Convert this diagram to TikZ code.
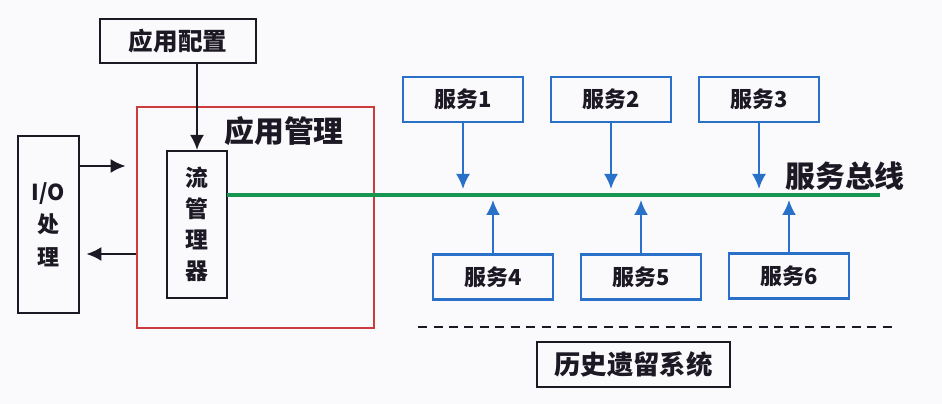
\documentclass[tikz,border=0pt]{standalone}
\usepackage{fontspec}
\newfontfamily\cjk{Noto Sans CJK SC}
\usetikzlibrary{arrows.meta}
\definecolor{busgreen}{RGB}{22,150,80}
\definecolor{srvblue}{RGB}{40,112,200}
\definecolor{mgrred}{RGB}{205,60,60}
\definecolor{bgwhite}{RGB}{250,250,252}
\definecolor{ink}{RGB}{28,24,36}
\begin{document}
\begin{tikzpicture}[x=0.02cm, y=-0.02cm,
    blackbox/.style={draw=ink, line width=1.2pt, text=ink, inner sep=0pt, font=\cjk\bfseries},
    srvbox/.style={draw=srvblue, line width=1.2pt, text=ink, inner sep=0pt,
        minimum width=2.4cm, minimum height=0.9cm, font=\cjk\bfseries\fontsize{12.5}{14}\selectfont},
    blackarrow/.style={draw=ink, line width=1.2pt, -{Latex[length=3mm,width=2.8mm]}},
    bluearrow/.style={draw=srvblue, line width=1.2pt, -{Latex[length=3mm,width=2.8mm]}}]

    \fill[bgwhite] (0,0) rectangle (942,404);
    \useasboundingbox (0,0) rectangle (942,404);

    \node[blackbox, minimum width=3.12cm, minimum height=0.88cm, font=\cjk\bfseries\fontsize{14}{16}\selectfont] (config) at (178, 41) {应用配置};
    \node[draw=mgrred, line width=1pt, minimum width=4.74cm, minimum height=4.42cm] (appmgr) at (255.5, 217.5) {};
    \node[text=ink, font=\cjk\bfseries\fontsize{17}{19}\selectfont] (mgrlabel) at (284, 131) {应用管理};
    \node[blackbox, minimum width=1.2cm, minimum height=2.94cm, align=center, font=\cjk\bfseries\fontsize{13}{17.6}\selectfont] (flow) at (197, 224.5) {流\\管\\理\\器};
    \node[blackbox, minimum width=1.22cm, minimum height=3.54cm, align=center, font=\cjk\bfseries\fontsize{12.5}{18.5}\selectfont] (io) at (48.5, 224.5) {I/O\\处\\理};

    \node[srvbox] (s1) at (463, 99.5) {服务1};
    \node[srvbox] (s2) at (611, 99.5) {服务2};
    \node[srvbox] (s3) at (759, 99.5) {服务3};
    \node[srvbox] (s4) at (493, 277) {服务4};
    \node[srvbox] (s5) at (641, 277) {服务5};
    \node[srvbox] (s6) at (789, 276) {服务6};

    \coordinate (busstart) at (227, 195);
    \coordinate (busend) at (880, 195);
    \node[text=ink, font=\cjk\bfseries\fontsize{17}{19}\selectfont] (buslabel) at (845, 176) {服务总线};

    \coordinate (dashstart) at (418, 327);
    \coordinate (dashend) at (893, 327);
    \node[blackbox, minimum width=3.86cm, minimum height=0.9cm, font=\cjk\bfseries\fontsize{15}{17}\selectfont] (legacy) at (633.5, 364.5) {历史遗留系统};

    % connectors
    \draw[blackarrow] (flow.north |- config.south) -- (flow.north);
    \draw[blackarrow, shorten >=5\pgflinewidth] (io.east |- 0,166) -- (appmgr.west |- 0,166);
    \draw[blackarrow, shorten >=3\pgflinewidth] (appmgr.west |- 0,254) -- (io.east |- 0,254);
    \draw[busgreen, line width=2.8pt] (busstart) -- (busend);

    \foreach \s in {s1,s2,s3}
        \draw[bluearrow, shorten >=1.2mm] (\s.south) -- (\s.south |- busstart);
    \foreach \s in {s4,s5,s6}
        \draw[bluearrow, shorten >=1mm] (\s.north) -- (\s.north |- busstart);

    \draw[ink, line width=1.2pt, dash pattern=on 0.18cm off 0.13cm] (dashstart) -- (dashend);
\end{tikzpicture}
\end{document}
